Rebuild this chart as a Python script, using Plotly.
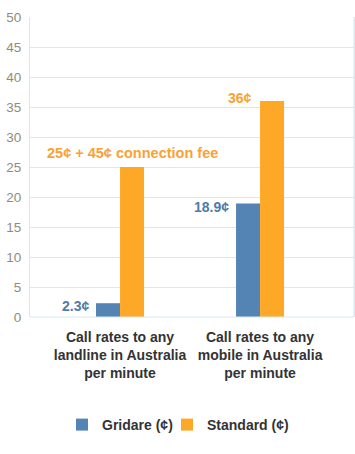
import plotly.graph_objects as go

categories = ["Call rates to any<br>landline in Australia<br>per minute",
              "Call rates to any<br>mobile in Australia<br>per minute"]
gridare = [2.3, 18.9]
standard = [25, 36]
gridare_labels = ["2.3¢", "18.9¢"]
standard_labels = ["25¢ + 45¢ connection fee", "36¢"]
y_ticks = [0, 5, 10, 15, 20, 25, 30, 35, 40, 45, 50]

BLUE = "#5484b4"
ORANGE = "#fea828"
BLUE_TXT = "#4f7bab"
ORANGE_TXT = "#f9a232"
GRID = "#d9e8ef"
FONT = "Liberation Sans, Arial"

x_idx = list(range(len(categories)))

fig = go.Figure()
fig.add_trace(go.Bar(name="<b>Gridare (¢)</b>", x=x_idx, y=gridare, marker_color=BLUE,
                     marker_line_width=0, legend="legend"))
fig.add_trace(go.Bar(name="<b>Standard (¢)</b>", x=x_idx, y=standard, marker_color=ORANGE,
                     marker_line_width=0, legend="legend2"))

ann = []
for i, (v, t) in enumerate(zip(gridare, gridare_labels)):
    ann.append(dict(x=i, y=v, text=f"<b>{t}</b>", xref="x", yref="y", showarrow=False,
                    xanchor="right", yanchor="middle", xshift=-29, yshift=-3,
                    font=dict(color=BLUE_TXT, size=14, family=FONT)))
for i, (v, t) in enumerate(zip(standard, standard_labels)):
    if i == 0:
        ann.append(dict(x=i, y=v, text=f"<b>{t}</b>", xref="x", yref="y", showarrow=False,
                        xanchor="center", yanchor="middle", xshift=12, yshift=14,
                        font=dict(color=ORANGE_TXT, size=14.5, family=FONT)))
    else:
        ann.append(dict(x=i, y=v, text=f"<b>{t}</b>", xref="x", yref="y", showarrow=False,
                        xanchor="right", yanchor="middle", xshift=-6, yshift=3,
                        font=dict(color=ORANGE_TXT, size=14, family=FONT)))

legend_common = dict(orientation="h", xanchor="left", y=-0.36, yanchor="middle",
                     font=dict(size=14, color="#333333"), itemclick=False,
                     bgcolor="rgba(0,0,0,0)")

fig.update_layout(
    width=355, height=454,
    margin=dict(l=30, r=1, t=17, b=137),
    paper_bgcolor="white", plot_bgcolor="white",
    barmode="group", bargap=0.657, bargroupgap=0,
    font=dict(family=FONT, size=12, color="#333333"),
    annotations=ann,
    showlegend=True,
    legend=dict(x=(62 - 30) / 324, **legend_common),
    legend2=dict(x=(167 - 30) / 324, **legend_common),
    xaxis=dict(range=[-0.643, 1.671], tickmode="array", tickvals=x_idx,
               ticktext=[f"<b>{c}</b>" for c in categories],
               tickfont=dict(size=14, color="#333333"), ticklabelstandoff=10,
               showgrid=False, zeroline=False, showline=False, ticks=""),
    yaxis=dict(range=[0, 50], tickvals=y_ticks, tickfont=dict(size=13.5, color="#928b7b"),
               ticklabelstandoff=5,
               showgrid=True, gridcolor=GRID, gridwidth=1,
               showline=True, linecolor=GRID, linewidth=1, mirror=True,
               zeroline=False, ticks=""),
)
fig.add_shape(type="line", xref="paper", yref="paper", x0=1, x1=1, y0=0, y1=1,
              line=dict(color=GRID, width=1))
fig.add_shape(type="line", xref="paper", yref="paper", x0=0, x1=1, y0=0, y1=0,
              line=dict(color=GRID, width=1))

fig.write_html("out.html", config={"displayModeBar": False},
               post_script="document.body.style.margin='0';document.body.style.padding='0';")
